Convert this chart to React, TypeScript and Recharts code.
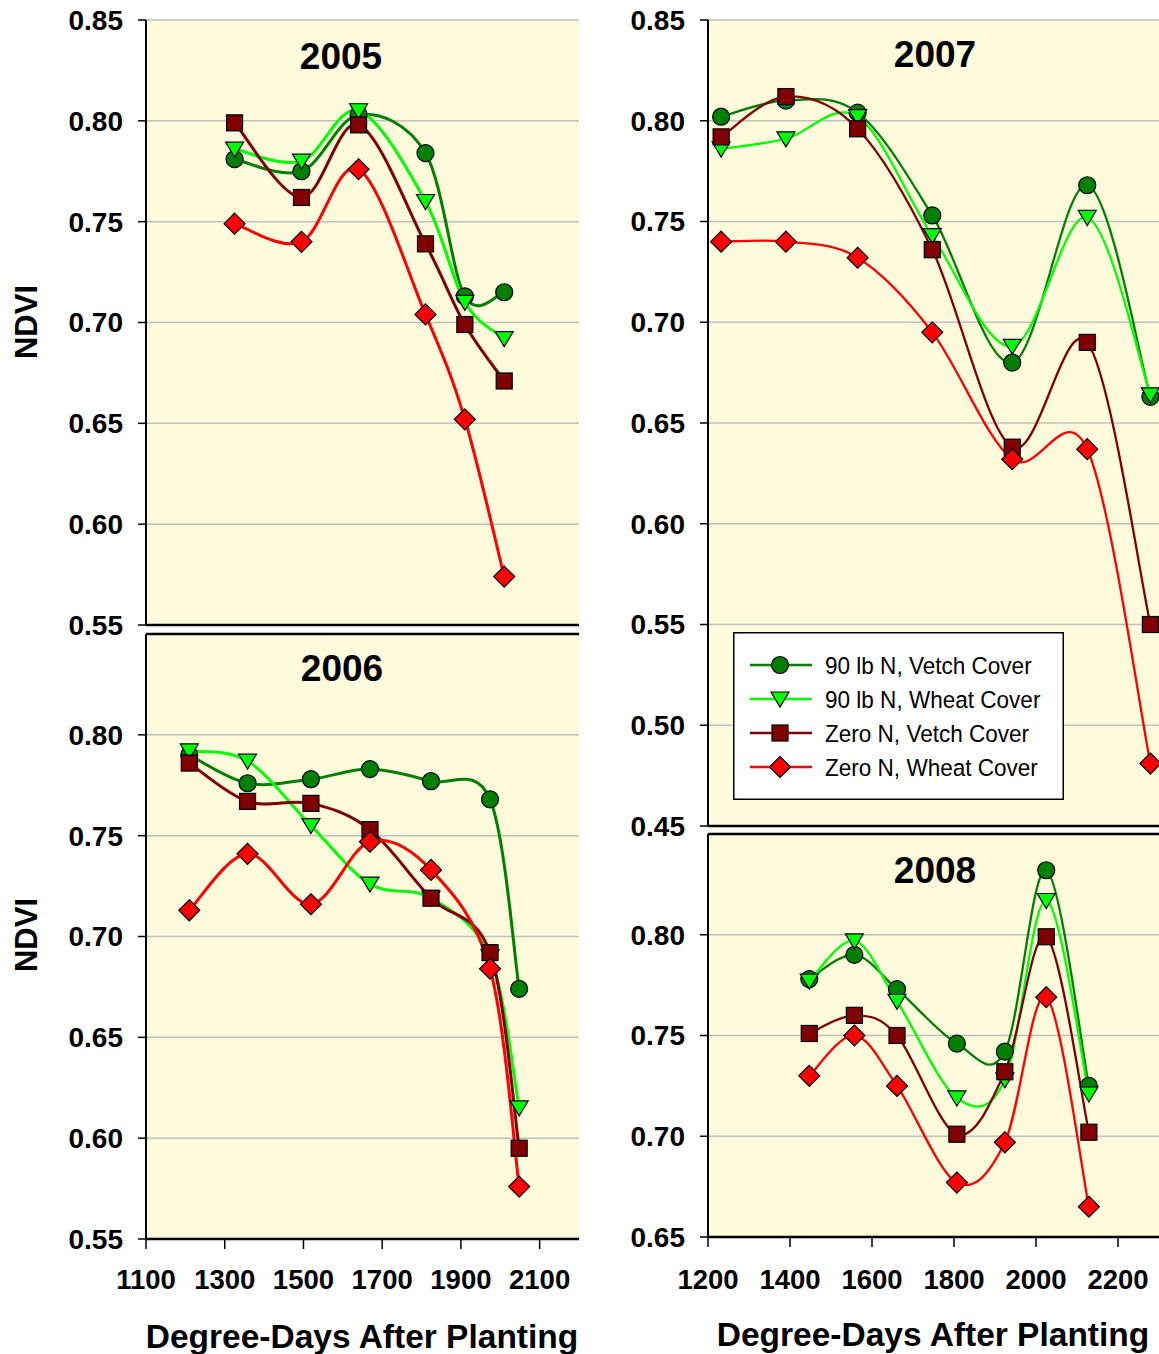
import React from 'react';
import { LineChart, Line, XAxis, YAxis, CartesianGrid, Legend } from 'recharts';

// values (degree-days, NDVI)
const X_2005 = [1325, 1495, 1640, 1810, 1910, 2010];
const V90_2005 = [0.781, 0.775, 0.803, 0.784, 0.713, 0.715];
const W90_2005 = [0.786, 0.780, 0.805, 0.760, 0.710, 0.692];
const ZV_2005 = [0.799, 0.762, 0.798, 0.739, 0.699, 0.671];
const ZW_2005 = [0.749, 0.740, 0.776, 0.704, 0.652, 0.574];

const X_2006 = [1210, 1358, 1519, 1669, 1824, 1974, 2048];
const V90_2006 = [0.790, 0.776, 0.778, 0.783, 0.777, 0.768, 0.674];
const W90_2006 = [0.792, 0.787, 0.755, 0.726, 0.719, 0.690, 0.615];
const ZV_2006 = [0.786, 0.767, 0.766, 0.753, 0.719, 0.692, 0.595];
const ZW_2006 = [0.713, 0.741, 0.716, 0.747, 0.733, 0.684, 0.576];

const X_2007 = [1232, 1390, 1565, 1747, 1942, 2125, 2279];
const V90_2007 = [0.802, 0.810, 0.804, 0.753, 0.680, 0.768, 0.663];
const W90_2007 = [0.786, 0.791, 0.802, 0.743, 0.688, 0.752, 0.664];
const ZV_2007 = [0.792, 0.812, 0.796, 0.736, 0.638, 0.690, 0.550];
const ZW_2007 = [0.740, 0.740, 0.732, 0.695, 0.632, 0.637, 0.481];

const X_2008 = [1447, 1557, 1661, 1807, 1924, 2025, 2129];
const V90_2008 = [0.778, 0.790, 0.773, 0.746, 0.742, 0.832, 0.725];
const W90_2008 = [0.777, 0.797, 0.767, 0.719, 0.728, 0.817, 0.721];
const ZV_2008 = [0.751, 0.760, 0.750, 0.701, 0.732, 0.799, 0.702];
const ZW_2008 = [0.730, 0.750, 0.725, 0.677, 0.697, 0.769, 0.665];

const LEFT_X_TICKS = [1100, 1300, 1500, 1700, 1900, 2100];
const RIGHT_X_TICKS = [1200, 1400, 1600, 1800, 2000, 2200];

const SERIES = [
  { key: 'v90', name: '90 lb N, Vetch Cover', color: '#008000', shape: 'circle' },
  { key: 'w90', name: '90 lb N, Wheat Cover', color: '#00FF00', shape: 'triangle' },
  { key: 'zv', name: 'Zero N, Vetch Cover', color: '#800000', shape: 'square' },
  { key: 'zw', name: 'Zero N, Wheat Cover', color: '#FF0000', shape: 'diamond' },
];

const FONT = '"Liberation Sans", Arial, sans-serif';
const BG = '#FEFADC';
const GRID = '#C0C0C0';

const toRows = (x: number[], v90: number[], w90: number[], zv: number[], zw: number[]) =>
  x.map((d, i) => ({ x: d, v90: v90[i], w90: w90[i], zv: zv[i], zw: zw[i] }));

// Excel-like smoothed line: cubic bezier through the points, catmull-rom tangents
const smoothCurve = (context: any) => {
  let pts: number[][] = [];
  return {
    areaStart() {},
    areaEnd() {},
    lineStart() { pts = []; },
    point(x: number, y: number) { pts.push([x, y]); },
    lineEnd() {
      if (!pts.length) return;
      context.moveTo(pts[0][0], pts[0][1]);
      for (let i = 0; i < pts.length - 1; i++) {
        const p0 = pts[Math.max(i - 1, 0)];
        const p1 = pts[i];
        const p2 = pts[i + 1];
        const p3 = pts[Math.min(i + 2, pts.length - 1)];
        context.bezierCurveTo(
          p1[0] + (p2[0] - p0[0]) / 6, p1[1] + (p2[1] - p0[1]) / 6,
          p2[0] - (p3[0] - p1[0]) / 6, p2[1] - (p3[1] - p1[1]) / 6,
          p2[0], p2[1],
        );
      }
    },
  };
};

function Marker({ shape, cx, cy, fill }: { shape: string; cx: number; cy: number; fill: string }) {
  const s = { fill, stroke: '#000', strokeWidth: 1.2 };
  if (shape === 'circle') return <circle cx={cx} cy={cy} r={8.5} {...s} />;
  if (shape === 'square') return <rect x={cx - 8} y={cy - 8} width={16} height={16} {...s} />;
  if (shape === 'diamond')
    return <polygon points={`${cx},${cy - 10.5} ${cx + 10.5},${cy} ${cx},${cy + 10.5} ${cx - 10.5},${cy}`} {...s} />;
  return <polygon points={`${cx - 9},${cy - 7} ${cx + 9},${cy - 7} ${cx},${cy + 8}`} {...s} />;
}

function LegendBox() {
  return (
    <svg width={331} height={168} style={{ display: 'block' }}>
      <rect x={0.75} y={0.75} width={329.5} height={166.5} fill="#fff" stroke="#000" strokeWidth={1.5} />
      {SERIES.map((s, i) => {
        const cy = 33 + i * 34;
        return (
          <g key={s.key}>
            <line x1={17} x2={79} y1={cy} y2={cy} stroke={s.color} strokeWidth={2.5} />
            <Marker shape={s.shape} cx={47} cy={cy} fill={s.color} />
            <text transform={`translate(92 ${cy + 8.8}) scale(0.92 1)`} fontFamily={FONT} fontSize={24.5} fill="#000">
              {s.name}
            </text>
          </g>
        );
      })}
    </svg>
  );
}

const YW = 100;
const MT = 20;

interface PanelProps {
  data: any[];
  plotX: number;
  plotY: number;
  plotW: number;
  plotH: number;
  xDomain: number[];
  xTicks: number[];
  yDomain: number[];
  yTicks: number[];
  lower: boolean;
  lineWidth: number;
  labelGap?: number;
  legend?: boolean;
}

function Panel({ data, plotX, plotY, plotW, plotH, xDomain, xTicks, yDomain, yTicks, lower, lineWidth, labelGap = 20, legend }: PanelProps) {
  const xh = lower ? 60 : 0;
  const mb = lower ? 0 : 20;
  const axisTick = { fill: '#000', fontSize: 27.5, fontWeight: 700, fontFamily: FONT };
  return (
    <div style={{ position: 'absolute', left: plotX - YW, top: plotY - MT }}>
      <LineChart width={YW + plotW} height={MT + plotH + xh + mb} data={data} margin={{ top: MT, right: 0, bottom: mb, left: 0 }}>
        <CartesianGrid vertical={false} stroke={GRID} strokeWidth={1.5} fill={BG} fillOpacity={1} />
        {lower ? (
          <XAxis
            dataKey="x" type="number" domain={xDomain} ticks={xTicks} interval={0} height={xh}
            tickSize={10} tickMargin={labelGap} tick={axisTick}
            axisLine={{ stroke: '#000', strokeWidth: 2.5 }} tickLine={{ stroke: '#000', strokeWidth: 1.5 }}
          />
        ) : (
          <XAxis
            dataKey="x" type="number" domain={xDomain} ticks={xTicks} interval={0} mirror tick={false}
            tickSize={10} axisLine={{ stroke: '#000', strokeWidth: 2.5 }} tickLine={{ stroke: '#000', strokeWidth: 1.5 }}
          />
        )}
        {lower && (
          <XAxis
            xAxisId="inner" type="number" domain={xDomain} ticks={xTicks} interval={0} mirror tick={false}
            allowDataOverflow tickSize={10} axisLine={false} tickLine={{ stroke: '#000', strokeWidth: 1.5 }}
          />
        )}
        <XAxis
          xAxisId="top" orientation="top" type="number" domain={xDomain} ticks={xTicks} interval={0} mirror tick={false}
          allowDataOverflow tickSize={8}
          axisLine={lower ? { stroke: '#000', strokeWidth: 2.5 } : false}
          tickLine={{ stroke: '#000', strokeWidth: 1.5 }}
        />
        <YAxis
          type="number" domain={yDomain} ticks={yTicks} interval={0} width={YW}
          tickFormatter={(v: number) => v.toFixed(2)}
          tickSize={8} tickMargin={15} tick={{ ...axisTick, fontSize: 28 }}
          axisLine={{ stroke: '#000', strokeWidth: 2 }} tickLine={{ stroke: '#000', strokeWidth: 1.5 }}
        />
        {SERIES.map((s) => (
          <Line
            key={s.key}
            dataKey={s.key}
            name={s.name}
            type={smoothCurve as any}
            stroke={s.color}
            strokeWidth={lineWidth}
            isAnimationActive={false}
            activeDot={false}
            dot={(p: any) => <Marker key={`${s.key}-${p.index}`} shape={s.shape} cx={p.cx} cy={p.cy} fill={s.color} />}
          />
        ))}
        {legend && (
          <Legend
            layout="horizontal" verticalAlign="middle" align="center"
            content={() => <LegendBox />}
            wrapperStyle={{ left: 733 - (plotX - YW), top: 632 - (plotY - MT), width: 331, height: 168 }}
          />
        )}
      </LineChart>
    </div>
  );
}

const TITLE = { fontFamily: FONT, fontWeight: 700, fill: '#000' } as const;

export default function App() {
  const Y_LEFT = [0.55, 0.6, 0.65, 0.7, 0.75, 0.8, 0.85];
  return (
    <div style={{ position: 'relative', width: 1159, height: 1354, background: '#fff', overflow: 'hidden' }}>
      <style>{'body{margin:0}'}</style>
      <Panel
        data={toRows(X_2005, V90_2005, W90_2005, ZV_2005, ZW_2005)}
        plotX={146} plotY={20} plotW={433} plotH={605}
        xDomain={[1100, 2200]} xTicks={LEFT_X_TICKS}
        yDomain={[0.55, 0.85]} yTicks={Y_LEFT} lower={false} lineWidth={3}
      />
      <Panel
        data={toRows(X_2006, V90_2006, W90_2006, ZV_2006, ZW_2006)}
        plotX={146} plotY={634} plotW={433} plotH={605}
        xDomain={[1100, 2200]} xTicks={LEFT_X_TICKS}
        yDomain={[0.55, 0.85]} yTicks={[0.55, 0.6, 0.65, 0.7, 0.75, 0.8]} lower lineWidth={3} labelGap={20}
      />
      <Panel
        data={toRows(X_2007, V90_2007, W90_2007, ZV_2007, ZW_2007)}
        plotX={708} plotY={20} plotW={451} plotH={806}
        xDomain={[1200, 2300]} xTicks={RIGHT_X_TICKS}
        yDomain={[0.45, 0.85]} yTicks={[0.45, 0.5, 0.55, 0.6, 0.65, 0.7, 0.75, 0.8, 0.85]} lower={false} lineWidth={2.3}
        legend
      />
      <Panel
        data={toRows(X_2008, V90_2008, W90_2008, ZV_2008, ZW_2008)}
        plotX={708} plotY={834} plotW={451} plotH={403}
        xDomain={[1200, 2300]} xTicks={RIGHT_X_TICKS}
        yDomain={[0.65, 0.85]} yTicks={[0.65, 0.7, 0.75, 0.8]} lower lineWidth={2.3} labelGap={22}
      />
      <svg width={1159} height={1354} style={{ position: 'absolute', left: 0, top: 0, pointerEvents: 'none' }}>
        <text x={341} y={69} textAnchor="middle" fontSize={37} {...TITLE}>2005</text>
        <text x={342} y={681} textAnchor="middle" fontSize={37} {...TITLE}>2006</text>
        <text x={935} y={67} textAnchor="middle" fontSize={37} {...TITLE}>2007</text>
        <text x={935} y={883} textAnchor="middle" fontSize={37} {...TITLE}>2008</text>
        <text transform="translate(37 322) rotate(-90)" textAnchor="middle" fontSize={31} {...TITLE}>NDVI</text>
        <text transform="translate(37 935) rotate(-90)" textAnchor="middle" fontSize={31} {...TITLE}>NDVI</text>
        <text x={362} y={1348} textAnchor="middle" fontSize={33.5} {...TITLE}>Degree-Days After Planting</text>
        <text x={933} y={1346} textAnchor="middle" fontSize={33.5} {...TITLE}>Degree-Days After Planting</text>
      </svg>
    </div>
  );
}
